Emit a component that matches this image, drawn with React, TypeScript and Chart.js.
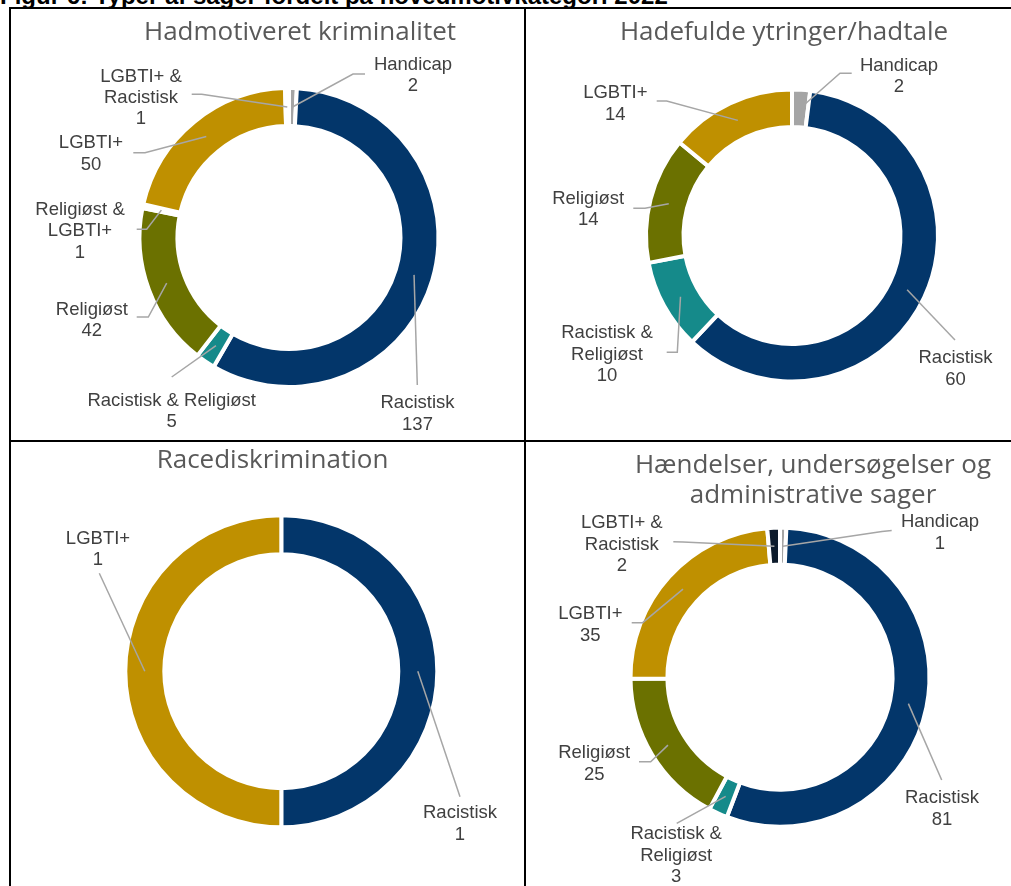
import React, { useEffect, useRef } from 'react';
import { Chart, registerables } from 'chart.js';

Chart.register(...registerables);

// ---------- DATA ----------
const categories = [
  'Handicap',
  'Racistisk',
  'Racistisk & Religiøst',
  'Religiøst',
  'Religiøst & LGBTI+',
  'LGBTI+',
  'LGBTI+ & Racistisk',
];
const hadmotiveretValues = [2, 137, 5, 42, 1, 50, 1];
const hadefuldeValues = [2, 60, 10, 14, 0, 14, 0];
const racediskriminationValues = [0, 1, 0, 0, 0, 1, 0];
const haendelserValues = [1, 81, 3, 25, 0, 35, 2];

const hadmotiveretTitle = ['Hadmotiveret kriminalitet'];
const hadefuldeTitle = ['Hadefulde ytringer/hadtale'];
const racediskriminationTitle = ['Racediskrimination'];
const haendelserTitle = ['Hændelser, undersøgelser og', 'administrative sager'];

const captionText = 'Figur 6: Typer af sager fordelt på hovedmotivkategori 2022';

// ---------- STYLE ----------
const categoryColors = ['#a5a5a5', '#03366a', '#158a8a', '#6b7100', '#d9d9d9', '#bf9000', '#0c1a2b'];
const TITLE_FONT = '26px "Open Sans", "Segoe UI", sans-serif';
const LABEL_FONT = '18.5px "Liberation Sans", Arial, sans-serif';
const LABEL_LINE = 21.3;

type LabelSpec = { pos: [number, number]; from: [number, number]; elbow?: [number, number]; wrap?: boolean };
type Layout = {
  cell: { left: number; top: number; width: number; height: number };
  center: [number, number];
  radius: number;
  cutout: string;
  titleX: number;
  titleBaselines: number[];
  labels: Record<string, LabelSpec>;
};

// ---------- LAYOUT (page coordinates) ----------
const layoutHadmotiveret: Layout = {
  cell: { left: 11, top: 9, width: 513, height: 431 },
  center: [289, 237.5],
  radius: 149.5,
  cutout: '74.6%',
  titleX: 300,
  titleBaselines: [40],
  labels: {
    'Handicap': { pos: [413, 63.3], from: [365, 74], elbow: [353, 74] },
    'Racistisk': { pos: [417.5, 401.7], from: [417.3, 385] },
    'Racistisk & Religiøst': { pos: [171.7, 399.3], from: [171.7, 377] },
    'Religiøst': { pos: [91.8, 308.3], from: [136.7, 317], elbow: [148.3, 317] },
    'Religiøst & LGBTI+': { pos: [80, 208.3], from: [136.7, 229.3], elbow: [146.7, 229.3], wrap: true },
    'LGBTI+': { pos: [91, 141.7], from: [133.3, 152.7], elbow: [145, 152.7] },
    'LGBTI+ & Racistisk': { pos: [141, 75], from: [191.7, 94.3], elbow: [201.7, 94.3], wrap: true },
  },
};

const layoutHadefulde: Layout = {
  cell: { left: 526, top: 9, width: 485, height: 431 },
  center: [792, 235.5],
  radius: 146,
  cutout: '74.3%',
  titleX: 784,
  titleBaselines: [40],
  labels: {
    'Handicap': { pos: [899, 64], from: [851.7, 73.3], elbow: [840, 73.3] },
    'Racistisk': { pos: [955.5, 356.7], from: [955, 340] },
    'Racistisk & Religiøst': { pos: [607, 331.7], from: [666.7, 352.3], elbow: [677.3, 352.3], wrap: true },
    'Religiøst': { pos: [588.2, 197.3], from: [633.3, 208.3], elbow: [645, 208.3] },
    'LGBTI+': { pos: [615.3, 91.7], from: [656.7, 101], elbow: [666.7, 101] },
  },
};

const layoutRacediskrimination: Layout = {
  cell: { left: 11, top: 442, width: 513, height: 444 },
  center: [281.3, 671.2],
  radius: 156,
  cutout: '75%',
  titleX: 272.5,
  titleBaselines: [468],
  labels: {
    'Racistisk': { pos: [460, 811.7], from: [460, 796.7] },
    'LGBTI+': { pos: [98, 537.3], from: [99.3, 573.3] },
  },
};

const layoutHaendelser: Layout = {
  cell: { left: 526, top: 442, width: 485, height: 444 },
  center: [780, 677.2],
  radius: 149.5,
  cutout: '75.3%',
  titleX: 813,
  titleBaselines: [473, 502.5],
  labels: {
    'Handicap': { pos: [940, 520.7], from: [891.7, 530.5], elbow: [882, 531.5] },
    'Racistisk': { pos: [942, 796.7], from: [941.7, 780] },
    'Racistisk & Religiøst': { pos: [676.2, 832.7], from: [676.7, 823.3], wrap: true },
    'Religiøst': { pos: [594.2, 751.7], from: [639, 761.7], elbow: [650.7, 761.7] },
    'LGBTI+': { pos: [590.3, 612.7], from: [631.7, 622.7], elbow: [642.7, 622.7] },
    'LGBTI+ & Racistisk': { pos: [621.8, 521.7], from: [673.3, 541.7], elbow: [683, 542], wrap: true },
  },
};

function makeCalloutPlugin(layout: Layout, titleLines: string[]) {
  return {
    id: 'callouts',
    afterDatasetsDraw(chart: any) {
      const ctx: CanvasRenderingContext2D = chart.ctx;
      const ox = layout.cell.left;
      const oy = layout.cell.top;
      const meta = chart.getDatasetMeta(0);
      const values: number[] = chart.data.datasets[0].data;
      ctx.save();
      // title
      ctx.font = TITLE_FONT;
      ctx.fillStyle = '#595959';
      ctx.textAlign = 'center';
      ctx.textBaseline = 'alphabetic';
      titleLines.forEach((t, i) => ctx.fillText(t, layout.titleX - ox, layout.titleBaselines[i] - oy));
      // callouts
      (chart.data.labels as string[]).forEach((name, i) => {
        const spec = layout.labels[name];
        if (!spec) return;
        const arc = meta.data[i];
        const p = arc.getCenterPoint();
        ctx.strokeStyle = '#a6a6a6';
        ctx.lineWidth = 1.5;
        ctx.beginPath();
        ctx.moveTo(spec.from[0] - ox, spec.from[1] - oy);
        if (spec.elbow) ctx.lineTo(spec.elbow[0] - ox, spec.elbow[1] - oy);
        ctx.lineTo(p.x, p.y);
        ctx.stroke();
        const lines = spec.wrap ? name.replace(' & ', ' &\n').split('\n') : [name];
        lines.push(String(values[i]));
        ctx.font = LABEL_FONT;
        ctx.fillStyle = '#404040';
        ctx.textAlign = 'center';
        ctx.textBaseline = 'alphabetic';
        lines.forEach((t, j) => {
          ctx.fillText(t, spec.pos[0] - ox, spec.pos[1] - oy + j * LABEL_LINE + 6.7);
        });
      });
      ctx.restore();
    },
  };
}

function DonutCell({ layout, values, title }: { layout: Layout; values: number[]; title: string[] }) {
  const ref = useRef<HTMLCanvasElement | null>(null);
  useEffect(() => {
    if (!ref.current) return;
    const idx = values.map((v, i) => i).filter((i) => values[i] > 0);
    const labels = idx.map((i) => categories[i]);
    const data = idx.map((i) => values[i]);
    const colors = idx.map((i) => categoryColors[i]);
    const { cell, center, radius } = layout;
    const half = radius + 3;
    const cx = center[0] - cell.left;
    const cy = center[1] - cell.top;
    const padding = {
      left: cx - half,
      right: cell.width - (cx + half),
      top: cy - half,
      bottom: cell.height - (cy + half),
    };
    const chart = new Chart(ref.current, {
      type: 'doughnut',
      data: {
        labels,
        datasets: [
          {
            data,
            backgroundColor: colors,
            borderColor: '#ffffff',
            borderWidth: 4,
          },
        ],
      },
      options: {
        responsive: false,
        animation: false,
        radius,
        cutout: layout.cutout,
        layout: { padding },
        plugins: {
          legend: { display: false },
          tooltip: { enabled: false },
          title: { display: false },
        },
        events: [],
      } as any,
      plugins: [makeCalloutPlugin(layout, title)],
    });
    return () => chart.destroy();
  }, [layout, values, title]);
  const { cell } = layout;
  return (
    <canvas
      ref={ref}
      width={cell.width}
      height={cell.height}
      style={{ position: 'absolute', left: cell.left, top: cell.top, width: cell.width, height: cell.height }}
    />
  );
}

export default function App() {
  const line = (left: number, top: number, width: number, height: number) => (
    <div style={{ position: 'absolute', left, top, width, height, background: '#000' }} />
  );
  return (
    <div
      style={{
        position: 'fixed',
        left: 0,
        top: 0,
        width: 1011,
        height: 886,
        overflow: 'hidden',
        background: '#fff',
      }}
    >
      <div
        style={{
          position: 'absolute',
          left: 0,
          top: -16,
          font: 'bold 24px "Liberation Sans", Arial, sans-serif',
          lineHeight: '24px',
          color: '#000',
          whiteSpace: 'nowrap',
        }}
      >
        {captionText}
      </div>
      <DonutCell layout={layoutHadmotiveret} values={hadmotiveretValues} title={hadmotiveretTitle} />
      <DonutCell layout={layoutHadefulde} values={hadefuldeValues} title={hadefuldeTitle} />
      <DonutCell layout={layoutRacediskrimination} values={racediskriminationValues} title={racediskriminationTitle} />
      <DonutCell layout={layoutHaendelser} values={haendelserValues} title={haendelserTitle} />
      {line(9, 7, 1002, 2)}
      {line(9, 7, 2, 879)}
      {line(524, 7, 2, 879)}
      {line(9, 440, 1002, 2)}
    </div>
  );
}
